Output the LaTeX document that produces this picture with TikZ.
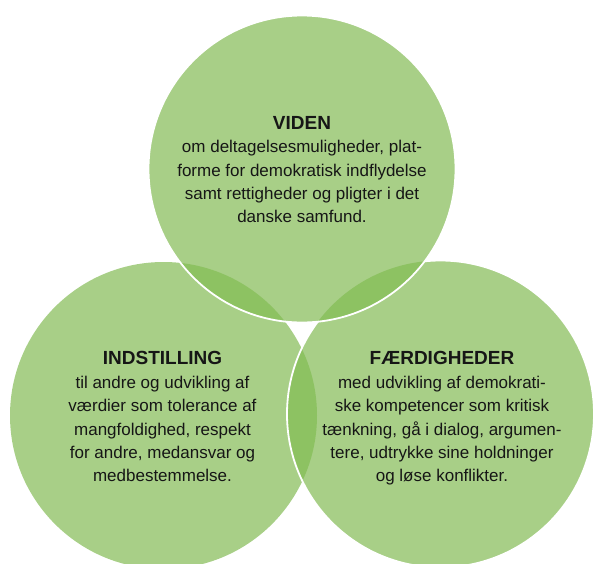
\documentclass[tikz,border=0pt]{standalone}
\usepackage{fontspec}
\setmainfont{Liberation Sans}
\definecolor{lightg}{HTML}{A8CF87}
\definecolor{darkg}{HTML}{8DC262}
\definecolor{txtc}{HTML}{161616}
\begin{document}
\begin{tikzpicture}[x=1pt,y=-1pt,
  bodytext/.style={anchor=north,inner sep=0pt,align=center,text=txtc,
    font=\fontsize{17}{23.4}\selectfont},
  circfill/.style={fill=lightg},
  lensfill/.style={fill=darkg},
  rim/.style={draw=white,line width=1.8pt}]
\useasboundingbox (0,0) rectangle (595,563);
\coordinate (tc) at (302,169);
\coordinate (lc) at (163.5,415.5);
\coordinate (rc) at (440.5,414);
% bottom circles
\fill[circfill] (lc) circle[radius=153.5pt];
\fill[circfill] (rc) circle[radius=153.5pt];
\begin{scope}
  \clip (lc) circle[radius=153.5pt];
  \fill[lensfill] (rc) circle[radius=153.5pt];
\end{scope}
\draw[rim] (rc) circle[radius=153.5pt];
% top circle
\fill[circfill] (tc) circle[radius=153.5pt];
\begin{scope}
  \clip (tc) circle[radius=153.5pt];
  \fill[lensfill] (lc) circle[radius=153.5pt];
  \fill[lensfill] (rc) circle[radius=153.5pt];
\end{scope}
\draw[rim] (tc) circle[radius=153.5pt];
% texts
\node[bodytext] (viden) at (302,116)
  {{\fontsize{19}{23.4}\selectfont\bfseries VIDEN}\\
   om deltagelsesmuligheder, plat-\\
   forme for demokratisk indflydelse\\
   samt rettigheder og pligter i det\\
   danske samfund.};
\node[bodytext] (indst) at (162.5,351.5)
  {{\fontsize{19}{23.4}\selectfont\bfseries INDSTILLING}\\
   til andre og udvikling af\\
   værdier som tolerance af\\
   mangfoldighed, respekt\\
   for andre, medansvar og\\
   medbestemmelse.};
\node[bodytext] (faerd) at (442,351.5)
  {{\fontsize{19}{23.4}\selectfont\bfseries FÆRDIGHEDER}\\
   med udvikling af demokrati-\\
   ske kompetencer som kritisk\\
   tænkning, gå i dialog, argumen-\\
   tere, udtrykke sine holdninger\\
   og løse konflikter.};
\end{tikzpicture}
\end{document}
